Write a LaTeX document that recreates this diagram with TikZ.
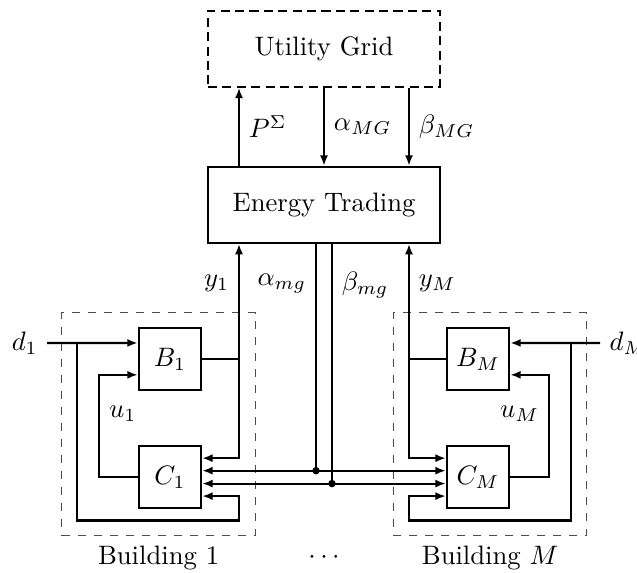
\documentclass[tikz,border=0pt]{standalone}
\usepackage{amssymb}
\usepackage{tikz}
\usetikzlibrary{arrows.meta, positioning, calc}

\begin{document}
\begin{tikzpicture}[
    block/.style={rectangle, draw, thick, minimum width=3.06cm,
      minimum height=1cm, align=center},
    sys/.style={rectangle, draw, thick, minimum width=0.82cm,
      minimum height=0.82cm},
    bldg/.style={rectangle, draw=black!70, dashed, minimum width=2.55cm,
      minimum height=2.94cm},
    arrow/.style={thick, -{Latex[length=3.9pt, width=3pt]}},
    dblarrow/.style={thick, {Latex[length=3.9pt, width=3pt]}-{Latex[length=3.9pt, width=3pt]}},
    link/.style={thick}
]
\useasboundingbox (-4.27,-4.84) rectangle (4.125,2.70);
\node[block]                                    (et) {Energy Trading};
\node[block, dash pattern=on 3.4pt off 2pt, above=1.03cm of et] (ug) {Utility Grid};
\node[sys] at (-2.03,-2.03)                     (b1) {$B_1$};
\node[sys, below=0.71cm of b1]                  (c1) {$C_1$};
\node[sys] at (2.03,-2.03)                      (bm) {$B_M$};
\node[sys, below=0.71cm of bm]                  (cm) {$C_M$};
\node[bldg] at (-2.18,-2.89)                    (bld1) {};
\node[bldg] at (2.19,-2.89)                     (bldm) {};
\node[below=0pt of bld1]                        (lbl1) {Building 1};
\node[below=0pt of bldm]                        (lblm) {Building $M$};
\node at (lbl1 -| et)                           (dots) {$\cdots$};
\node[anchor=east] at (-3.65,-1.82)             (d1) {$d_1$};
\node[anchor=west] at (3.64,-1.82)              (dm) {$d_M$};

% grid <-> trading
\draw[arrow] ([xshift=-1.12cm]et.north) -- node[right] {$P^{\Sigma}$} ([xshift=-1.12cm]ug.south);
\draw[arrow] (ug.south) -- node[right] {$\alpha_{MG}$} (et.north);
\draw[arrow] ([xshift=1.12cm]ug.south) -- node[right] {$\beta_{MG}$} ([xshift=1.12cm]et.north);

% ports
\coordinate (y1) at ([xshift=-1.12cm]et.south);
\coordinate (ym) at ([xshift=1.12cm]et.south);
\coordinate (atop) at ([xshift=-0.105cm]et.south);
\coordinate (btop) at ([xshift=0.105cm]et.south);
\coordinate (c1a) at ([yshift=0.085cm]c1.east);
\coordinate (c1b) at ([yshift=-0.085cm]c1.east);
\coordinate (cma) at ([yshift=0.085cm]cm.west);
\coordinate (cmb) at ([yshift=-0.085cm]cm.west);

% building 1
\draw[arrow] (d1.east) -- ([yshift=0.21cm]b1.west);
\coordinate (j1) at (-3.26,-1.82);
\coordinate (bot1) at (-1.12,-4.16);
\draw[arrow] (j1) |- (bot1) |- ([yshift=-0.25cm]c1.east);
\draw[arrow] (b1.east) -| node[pos=0.83, left] {$y_1$} (y1);
\draw[arrow] (b1.east -| y1) |- ([yshift=0.25cm]c1.east);
\draw[arrow] (c1.west) -- ++(-0.51,0) |- node[pos=0.31, right] {$u_1$} ([yshift=-0.21cm]b1.west);

% building M
\draw[arrow] (dm.west) -- ([yshift=0.21cm]bm.east);
\coordinate (jm) at (3.26,-1.82);
\coordinate (botm) at (1.12,-4.16);
\draw[arrow] (jm) |- (botm) |- ([yshift=-0.25cm]cm.west);
\draw[arrow] (bm.west) -| node[pos=0.83, right] {$y_M$} (ym);
\draw[arrow] (bm.west -| ym) |- ([yshift=0.25cm]cm.west);
\draw[arrow] (cm.east) -- ++(0.51,0) |- node[pos=0.31, left] {$u_M$} ([yshift=-0.21cm]bm.east);

% prices to buildings
\draw[link] (atop) -- node[pos=0.175, left] {$\alpha_{mg}$} (atop |- c1a);
\draw[link] (btop) -- node[pos=0.17, right] {$\beta_{mg}$} (btop |- c1b);
\draw[dblarrow] (c1a) -- (cma);
\draw[dblarrow] (c1b) -- (cmb);
\fill (atop |- c1a) circle (1.4pt);
\fill (btop |- c1b) circle (1.4pt);
\end{tikzpicture}
\end{document}
